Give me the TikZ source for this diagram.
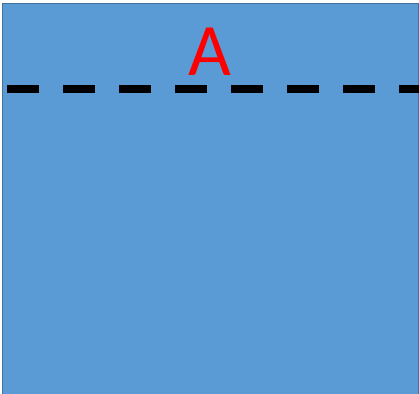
\documentclass[tikz,border=0pt]{standalone}
\usepackage{fontspec}
\setmainfont{Carlito}
\usetikzlibrary{positioning}
\definecolor{panelFill}{RGB}{91,155,213}
\definecolor{panelBorder}{RGB}{65,113,156}
\definecolor{labelRed}{RGB}{255,0,0}
\begin{document}
\begin{tikzpicture}[x=1pt,y=1pt,
    panel/.style={fill=panelFill, draw=panelBorder, line width=1pt},
    cutline/.style={draw=black, line width=8pt, dash pattern=on 32pt off 24pt},
    zonelabel/.style={text=labelRed, inner sep=0pt, anchor=base,
      font=\fontsize{74}{80}\selectfont}]
  \useasboundingbox (0,0) rectangle (419,393);
  \clip (0,0) rectangle (419,393);
  % blue panel
  \coordinate (panelSW) at (2.5,-3);
  \coordinate (panelNE) at (418.5,389.5);
  \draw[panel] (panelSW) rectangle (panelNE);
  % dashed line across the top
  \coordinate (cutW) at (7,304);
  \coordinate (cutE) at (430,304);
  \draw[cutline] (cutW) -- (cutE);
  % label
  \node[zonelabel] (zoneA) at (210,317) {A};
\end{tikzpicture}
\end{document}
